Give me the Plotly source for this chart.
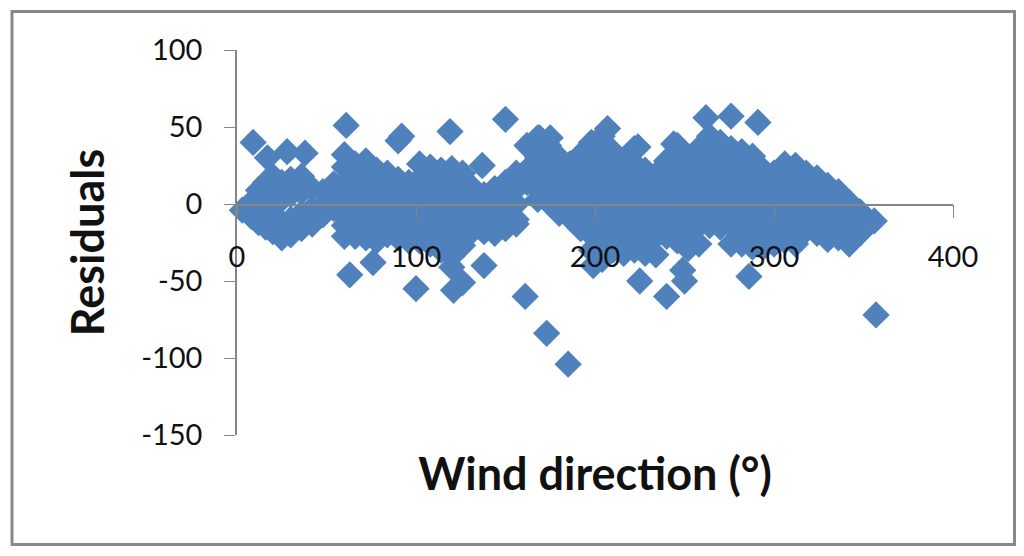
import plotly.graph_objects as go

# wind direction columns and the residuals for each of them
wind_columns = [3, 8, 12, 16, 20, 25, 30, 36, 42, 48, 54, 60, 66, 72, 78, 84, 90, 96, 102, 108,
                114, 120, 126, 132, 138, 144, 150, 156, 162, 168, 174, 180, 186, 192, 198, 204, 210, 216, 222, 228,
                234, 240, 246, 252, 258, 264, 270, 276, 282, 288, 294, 300, 306, 312, 318, 324, 330, 336, 342, 348]
residual_columns = [
    [-4], [1, -8], [9, -2, -12], [14, 4, -15], [18, 8, -8, -18], [14, 3, -12, -22], [16, 6, -10, -20], [18, 8, -6, -16],
    [10, -3, -13], [8, -2, -7], [13, 4, -3], [32, 24, 14, 4, -8, -14, -21], [26, 16, 6, -4, -14, -21],
    [28, 18, 8, -2, -12, -22], [22, 12, 2, -8, -18, -24], [20, 10, 0, -10, -20], [16, 6, -4, -14, -22, 41],
    [14, 4, -6, -16, -24], [26, 16, 6, -3, -16, -24], [24, 14, 4, -7, -18, -26], [22, 12, 2, -8, -18, -24, -30],
    [23, 14, 4, -6, -16, -26, -34, -41], [20, 10, 0, -10, -20, -27], [10, 0, -10, -17], [6, -4, -14, -18],
    [10, 0, -10, -19], [14, 4, -6, -16], [20, 10, 0, -10, -13], [38, 22, 14], [43, 30, 20, 10, 3],
    [38, 28, 18, 8, 1], [30, 20, 10, 0, -6], [26, 16, 6, -4, -9], [32, 22, 12, 2, -8, -16],
    [40, 30, 20, 10, 0, -10, -20, -30], [44, 34, 24, 14, 4, -6, -16, -26, -36], [34, 24, 14, 4, -6, -16, -26, -30],
    [28, 18, 8, -2, -12, -22, -32], [36, 26, 16, 6, -4, -14, -24, -30], [22, 12, 2, -8, -18, -28, -32],
    [19, 9, -1, -11, -21, -33], [28, 18, 8, -2, -12, -21], [38, 28, 18, 8, -2, -12, -24],
    [30, 20, 10, 0, -10, -20, -29], [36, 26, 16, 6, -4, -14, -26], [44, 34, 24, 14, 4, -6, -14],
    [40, 30, 20, 10, 0, -10, -15], [36, 26, 16, 6, -4, -14, -26], [34, 24, 14, 4, -6, -16, -26],
    [31, 21, 11, 1, -9, -19, -28], [22, 12, 2, -8, -18, -28], [20, 10, 0, -10, -20, -26],
    [26, 16, 6, -4, -14, -24], [25, 15, 5, -5, -15, -26], [20, 10, 0, -10, -17], [17, 7, -3, -13, -19],
    [12, 2, -8, -18, -23], [8, -2, -12, -22], [1, -9, -19, -26], [-5, -15, -19],
]
outlier_wind = [9, 17, 28, 38, 61, 92, 119, 137, 150, 169, 175, 207, 224, 244, 262, 276, 291, 345, 356,
                63, 76, 100, 121, 126, 138, 173, 185, 161, 199, 225, 240, 249, 250, 286, 357]
outlier_residual = [40, 30, 34, 33, 51, 44, 47, 25, 55, 43, 43, 49, 37, 39, 56, 57, 53, -5, -11,
                    -46, -38, -55, -56, -51, -40, -84, -104, -60, -40, -50, -60, -43, -50, -47, -72]
x_ticks = [0, 100, 200, 300, 400]
y_ticks = [-150, -100, -50, 0, 50, 100]
y_tick_labels = ['-150', '-100', '-50', '0', '50', '100']

wind = [x for x, col in zip(wind_columns, residual_columns) for _ in col] + outlier_wind
residuals = [r for col in residual_columns for r in col] + outlier_residual

fig = go.Figure()
fig.add_trace(go.Scatter(x=wind, y=residuals, mode='markers', cliponaxis=False,
                         marker=dict(symbol='diamond', size=21, color='#4F81BD', line=dict(width=0))))

# plot area in page pixels, the page itself sits 8px in from the window corner
page_offset = 8
width, height = 1016, 540
left, right, top, bottom = 237, 953, 50, 434.7
def px(x):
    return (x - left) / (right - left)
def py(y):
    return (bottom - y) / (bottom - top)

fig.update_layout(
    width=width, height=height, showlegend=False,
    paper_bgcolor='white', plot_bgcolor='white',
    margin=dict(l=left-page_offset, r=width-(right-page_offset), t=top-page_offset, b=height-(bottom-page_offset)),
    font=dict(family='Lato', color='#111111'),
    # the page clips anything past 1016px, so the right edge of the frame stops just short of that
    shapes=[dict(type='rect', xref='paper', yref='paper', x0=px(12), x1=px(1014.5), y0=py(11.5), y1=py(544),
                 line=dict(color='#888888', width=3), layer='below')],
)
fig.update_xaxes(range=[0, 400], tickvals=x_ticks, showgrid=False, zeroline=False,
                 anchor='free', position=py(204.4), showline=True, linecolor='#868686', linewidth=1.5,
                 ticks='outside', ticklen=13, tickcolor='#868686', tickfont=dict(size=29), ticklabelstandoff=14,
                 title=dict(text='<b>Wind direction (°)</b>', font=dict(size=45), standoff=185))
fig.update_yaxes(range=[-150, 100], tickvals=y_ticks, ticktext=y_tick_labels, showgrid=False, zeroline=False,
                 showline=True, linecolor='#868686', linewidth=1.5,
                 ticks='outside', ticklen=11, tickcolor='#868686', tickfont=dict(size=29), ticklabelstandoff=16,
                 title=dict(text='<b>Residuals</b>', font=dict(size=45), standoff=22))

fig.write_html("out.html")
